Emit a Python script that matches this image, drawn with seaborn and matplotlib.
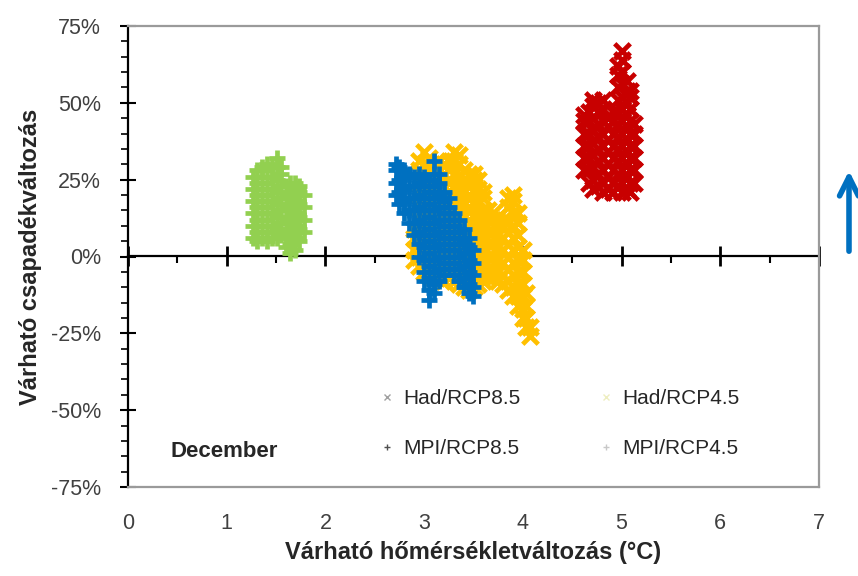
import matplotlib
matplotlib.use("Agg")
import numpy as np
import pandas as pd
import seaborn as sns
import matplotlib.pyplot as plt
from matplotlib.ticker import MultipleLocator, FixedLocator, FuncFormatter, NullFormatter
from matplotlib.lines import Line2D

# ---------------- data ----------------
series_names = ["Had/RCP8.5", "Had/RCP4.5", "MPI/RCP8.5", "MPI/RCP4.5"]
series_colors = ["#C80000", "#FFC000", "#0070C0", "#92D050"]
series_markers = ["x", "x", "+", "+"]

x_ticks = [0, 1, 2, 3, 4, 5, 6, 7]
y_ticks = [-75, -50, -25, 0, 25, 50, 75]

# Had/RCP8.5 : temperature columns and precipitation values (%)
had85_x = [4.62, 4.67, 4.71, 4.76, 4.81, 4.86, 4.91, 4.96, 5.00, 5.05, 5.09, 5.13]
had85_y = [
    [28, 32, 36, 40, 44, 46],
    [24, 28, 32, 36, 40, 44, 47],
    [22, 25, 29, 33, 37, 41, 45, 49, 51],
    [23, 27, 31, 35, 39, 43, 47, 50],
    [21, 24, 28, 32, 36, 40, 44, 48, 51],
    [22, 26, 30, 34, 38, 42, 45],
    [21, 24, 28, 32, 36, 40, 44, 47],
    [23, 27, 31, 35, 39, 43, 47, 51, 55, 59, 62],
    [21, 24, 28, 32, 36, 40, 44, 48, 52, 56, 60, 64, 67],
    [22, 26, 30, 34, 38, 42, 46, 50, 54, 57],
    [21, 24, 28, 32, 36, 40, 44, 48, 52, 54],
    [24, 28, 32, 36, 40, 43],
]

# Had/RCP4.5
had45_x = [2.90, 2.95, 3.00, 3.05, 3.10, 3.15, 3.20, 3.25, 3.30, 3.35, 3.40, 3.45,
           3.50, 3.55, 3.60, 3.65, 3.70, 3.75, 3.80, 3.85, 3.90, 3.95, 4.00, 4.03, 4.07]
had45_y = [
    [-1, 2, 6, 9],
    [-3, 0, 4, 8, 12, 16, 20, 24, 28, 31],
    [-5, -2, 2, 6, 10, 14, 18, 22, 26, 30, 34],
    [-6, -3, 1, 5, 9, 13, 17, 21, 25, 29, 32],
    [-7, -4, 0, 4, 8, 12, 16, 20, 24, 28, 30],
    [-7, -4, 0, 4, 8, 12, 16, 20, 24, 28, 31],
    [-8, -5, -1, 3, 7, 11, 15, 19, 23, 27, 30],
    [-7, -4, 0, 4, 8, 12, 16, 20, 24, 28, 31],
    [-8, -5, -1, 3, 7, 11, 15, 19, 23, 27, 31, 34],
    [-9, -6, -2, 2, 6, 10, 14, 18, 22, 26, 30, 33],
    [-10, -7, -3, 1, 5, 9, 13, 17, 21, 25, 28],
    [-11, -8, -4, 0, 4, 8, 12, 16, 20, 24, 27],
    [-10, -7, -3, 1, 5, 9, 13, 17, 21, 25, 27],
    [-9, -6, -2, 2, 6, 10, 14, 18, 22, 25],
    [-8, -5, -1, 3, 7, 11, 15, 19, 21],
    [-7, -4, 0, 4, 8, 12, 15],
    [-7, -4, 0, 4, 8, 12, 14],
    [-8, -5, -1, 3, 7, 11, 13],
    [-9, -6, -2, 2, 6, 10, 12],
    [-11, -8, -4, 0, 4, 8, 12, 16, 19],
    [-13, -10, -6, -2, 2, 6, 10, 14, 18, 20],
    [-16, -13, -9, -5, -1, 3, 7, 11, 14],
    [-20, -17, -13, -9, -5, -1, 2],
    [-23, -20, -16, -12],
    [-26, -23],
]

# MPI/RCP8.5
mpi85_x = [2.71, 2.75, 2.80, 2.85, 2.90, 2.95, 3.00, 3.05, 3.10, 3.15, 3.20,
           3.25, 3.30, 3.35, 3.40, 3.45, 3.49]
mpi85_y = [
    [20, 24, 28, 30],
    [17, 21, 25, 29],
    [14, 18, 22, 26, 28],
    [11, 15, 19, 23, 27],
    [7, 11, 15, 19, 23, 26],
    [0, 4, 8, 12, 16, 20, 24, 27],
    [-8, -5, -1, 3, 7, 11, 15, 19, 23, 26],
    [-14, -11, -7, -3, 1, 5, 9, 13, 17, 21, 25],
    [-12, -9, -5, -1, 3, 7, 11, 15, 19, 23, 27, 31],
    [-8, -4, 0, 4, 8, 12, 16, 20, 24, 27],
    [-6, -2, 2, 6, 10, 14, 18, 21],
    [-4, 0, 4, 8, 12, 16, 19],
    [-6, -2, 2, 6, 10, 14],
    [-8, -4, 0, 4, 8, 12],
    [-10, -7, -3, 1, 5, 9],
    [-12, -9, -5, -1, 3, 6],
    [-13, -10, -6, -2, 2],
]

# MPI/RCP4.5
mpi45_x = [1.27, 1.31, 1.36, 1.41, 1.46, 1.51, 1.55, 1.60, 1.64, 1.69, 1.73, 1.78]
mpi45_y = [
    [6, 10, 14, 18, 22, 26],
    [5, 8, 12, 16, 20, 24, 28],
    [6, 10, 14, 18, 22, 26, 29],
    [5, 8, 12, 16, 20, 24, 28, 30],
    [6, 10, 14, 18, 22, 26, 29],
    [6, 9, 13, 17, 21, 25, 29, 32],
    [7, 11, 15, 19, 23, 27, 29],
    [3, 7, 11, 15, 19, 23],
    [1, 4, 8, 12, 16, 20, 24],
    [2, 6, 10, 14, 18, 22, 24],
    [5, 9, 13, 17, 21, 23],
    [8, 12, 16, 20],
]

# ---------------- build table ----------------
rows = []
for name, xs, yss in zip(series_names,
                         [had85_x, had45_x, mpi85_x, mpi45_x],
                         [had85_y, had45_y, mpi85_y, mpi45_y]):
    for xv, ys in zip(xs, yss):
        for yv in ys:
            rows.append((name, xv, yv))
df = pd.DataFrame(rows, columns=["series", "temp", "precip"])

# ---------------- style ----------------
sns.set_theme(style="white")
plt.rcParams["font.family"] = ["Liberation Sans", "DejaVu Sans"]

fig = plt.figure(figsize=(8.58, 5.76), dpi=100)
ax = fig.add_axes([128 / 858, 1 - 487 / 576, 691 / 858, 461 / 576])

for name, col, mk in zip(series_names, series_colors, series_markers):
    sub = df[df["series"] == name]
    sns.scatterplot(data=sub, x="temp", y="precip", marker=mk, color=col,
                    s=125, linewidth=3.4, ax=ax, legend=False, zorder=3)

ax.set_xlim(0, 7)
ax.set_ylim(-75, 75)

# main x axis: labels at the bottom only
ax.xaxis.set_major_locator(FixedLocator(x_ticks))
ax.tick_params(axis="x", which="both", length=0, pad=19, labelsize=15.5,
               labelcolor="#404040")

# y axis
ax.yaxis.set_major_locator(FixedLocator(y_ticks))
ax.yaxis.set_minor_locator(MultipleLocator(5))
ax.yaxis.set_major_formatter(FuncFormatter(lambda v, p: f"{int(v)}%"))
ax.tick_params(axis="y", which="major", direction="inout", length=11, width=1.5,
               color="black", pad=14, labelsize=15.5, labelcolor="#404040", left=True)
ax.tick_params(axis="y", which="minor", direction="out", length=5, width=1.2,
               color="black", left=True)

for s in ["top", "right", "bottom"]:
    ax.spines[s].set_color("#9a9a9a")
    ax.spines[s].set_linewidth(1.6)
ax.spines["left"].set_color("black")
ax.spines["left"].set_linewidth(1.6)

# zero line with ticks
sec = ax.secondary_xaxis(0.5)
sec.xaxis.set_major_locator(FixedLocator(x_ticks))
sec.xaxis.set_minor_locator(MultipleLocator(0.5))
sec.xaxis.set_major_formatter(NullFormatter())
sec.tick_params(axis="x", which="major", direction="inout", length=14, width=2,
                color="black", labeltop=False, labelbottom=False)
sec.tick_params(axis="x", which="minor", direction="in", length=5, width=1.5,
                color="black")
for s in ["top", "bottom"]:
    sec.spines[s].set_color("black")
    sec.spines[s].set_linewidth(1.6)

ax.set_xlabel("Várható hőmérsékletváltozás (°C)", fontsize=17, fontweight="bold",
              color="#262626", labelpad=5)
ax.set_ylabel("Várható csapadékváltozás", fontsize=17, fontweight="bold",
              color="#262626", labelpad=6)

ax.text(0.061, 0.076, "December", transform=ax.transAxes, fontsize=16,
        fontweight="bold", color="#262626", va="center", ha="left")

# legend (row 1: Had, row 2: MPI)
h_had85 = Line2D([], [], ls="none", marker="x", color="#a0a0a0", markersize=5, mew=1)
h_had45 = Line2D([], [], ls="none", marker="x", color="#eeeec0", markersize=5, mew=1)
h_mpi85 = Line2D([], [], ls="none", marker="+", color="#505050", markersize=5, mew=1)
h_mpi45 = Line2D([], [], ls="none", marker="+", color="#c8c8c8", markersize=5, mew=1)
leg = ax.legend([h_had85, h_mpi85, h_had45, h_mpi45],
                [series_names[0], series_names[2], series_names[1], series_names[3]],
                ncol=2, frameon=False,
                loc="upper left", bbox_to_anchor=(0.335, 0.253),
                prop={"size": 15},
                handlelength=0.8, handletextpad=0.4, columnspacing=3.7,
                labelspacing=1.5)
for t in leg.get_texts():
    t.set_color("#262626")

# blue arrow to the right of the chart
ax.annotate("", xy=(849 / 858, 1 - 168 / 576), xycoords="figure fraction",
            xytext=(849 / 858, 1 - 254 / 576), textcoords="figure fraction",
            arrowprops=dict(arrowstyle="->", color="#0070C0", lw=4,
                            mutation_scale=34), annotation_clip=False)

fig.savefig("out.png", dpi=100)
